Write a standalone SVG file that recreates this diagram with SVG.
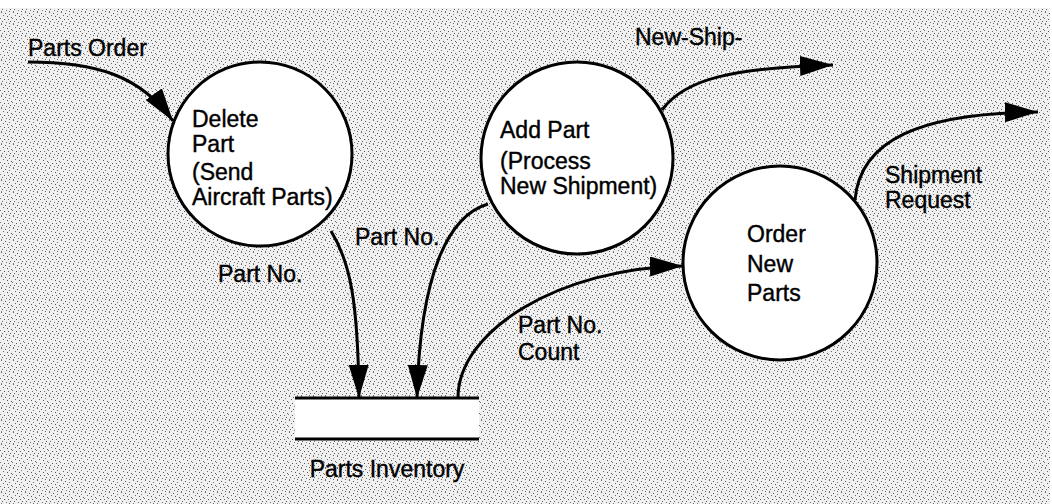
<svg xmlns="http://www.w3.org/2000/svg" width="1052" height="504" viewBox="0 0 1052 504">
  <defs>
    <pattern id="stipple" width="12" height="12" patternUnits="userSpaceOnUse">
      <rect width="12" height="12" fill="#f0f0f0"/>
      <rect x="1" y="0" width="1" height="1" fill="#666"/>
      <rect x="5" y="1" width="1" height="1" fill="#555"/>
      <rect x="9" y="2" width="1" height="1" fill="#777"/>
      <rect x="3" y="3" width="1" height="1" fill="#666"/>
      <rect x="7" y="4" width="1" height="1" fill="#555"/>
      <rect x="11" y="5" width="1" height="1" fill="#666"/>
      <rect x="0" y="6" width="1" height="1" fill="#777"/>
      <rect x="4" y="7" width="1" height="1" fill="#555"/>
      <rect x="8" y="7" width="1" height="1" fill="#666"/>
      <rect x="2" y="9" width="1" height="1" fill="#666"/>
      <rect x="6" y="10" width="1" height="1" fill="#777"/>
      <rect x="10" y="9" width="1" height="1" fill="#555"/>
      <rect x="1" y="11" width="1" height="1" fill="#777"/>
      <rect x="9" y="11" width="1" height="1" fill="#666"/>
    </pattern>
    <marker id="arrow" markerUnits="userSpaceOnUse" markerWidth="34" markerHeight="22" refX="33" refY="10" orient="auto">
      <path d="M0,0 L33,10 L0,20 Z" fill="#000"/>
    </marker>
    <style>
      .bubble { fill: #fff; stroke: #000; stroke-width: 3; }
      .flow { fill: none; stroke: #000; stroke-width: 3; marker-end: url(#arrow); }
      .line { fill: none; stroke: #000; stroke-width: 3; }
      text { font-family: "Liberation Sans", Arial, sans-serif; font-size: 23px; fill: #000; stroke: #000; stroke-width: 0.4; }
    </style>
  </defs>

  <rect x="0" y="0" width="1052" height="504" fill="#fff"/>
  <rect x="0" y="8" width="1050" height="496" fill="url(#stipple)"/>

  <g id="connectors">
    <path class="flow" d="M28,62 C95,62 140,75 173,121"/>
    <path class="flow" d="M331,231 C350,262 358,300 359,398"/>
    <path class="flow" d="M488,204 C450,215 420,270 417,398"/>
    <path class="flow" d="M458,398 C458,330 560,268 683,266"/>
    <path class="flow" d="M662,110 C685,78 735,68 833,65"/>
    <path class="flow" d="M855,200 C860,140 920,113 1038,112"/>
  </g>

  <g id="delete-part">
    <circle class="bubble" cx="260" cy="154" r="92"/>
    <text x="192" y="127">Delete</text>
    <text x="192" y="152">Part</text>
    <text x="192" y="180">(Send</text>
    <text x="192" y="205">Aircraft Parts)</text>
  </g>

  <g id="add-part">
    <circle class="bubble" cx="577" cy="158" r="96"/>
    <text x="500" y="138">Add Part</text>
    <text x="500" y="169">(Process</text>
    <text x="500" y="194">New Shipment)</text>
  </g>

  <g id="order-new-parts">
    <circle class="bubble" cx="780" cy="263" r="97"/>
    <text x="747" y="242">Order</text>
    <text x="747" y="272">New</text>
    <text x="747" y="301">Parts</text>
  </g>

  <g id="parts-inventory">
    <rect x="295" y="398" width="184" height="41" fill="#fff"/>
    <line class="line" x1="295" y1="398" x2="479" y2="398"/>
    <line class="line" x1="295" y1="439" x2="479" y2="439"/>
    <text x="387" y="477" text-anchor="middle">Parts Inventory</text>
  </g>

  <g id="labels">
    <text x="28" y="56">Parts Order</text>
    <text x="635" y="45">New-Ship-</text>
    <text x="885" y="183">Shipment</text>
    <text x="885" y="208">Request</text>
    <text x="218" y="282">Part No.</text>
    <text x="355" y="245">Part No.</text>
    <text x="518" y="333">Part No.</text>
    <text x="518" y="360">Count</text>
  </g>
</svg>
